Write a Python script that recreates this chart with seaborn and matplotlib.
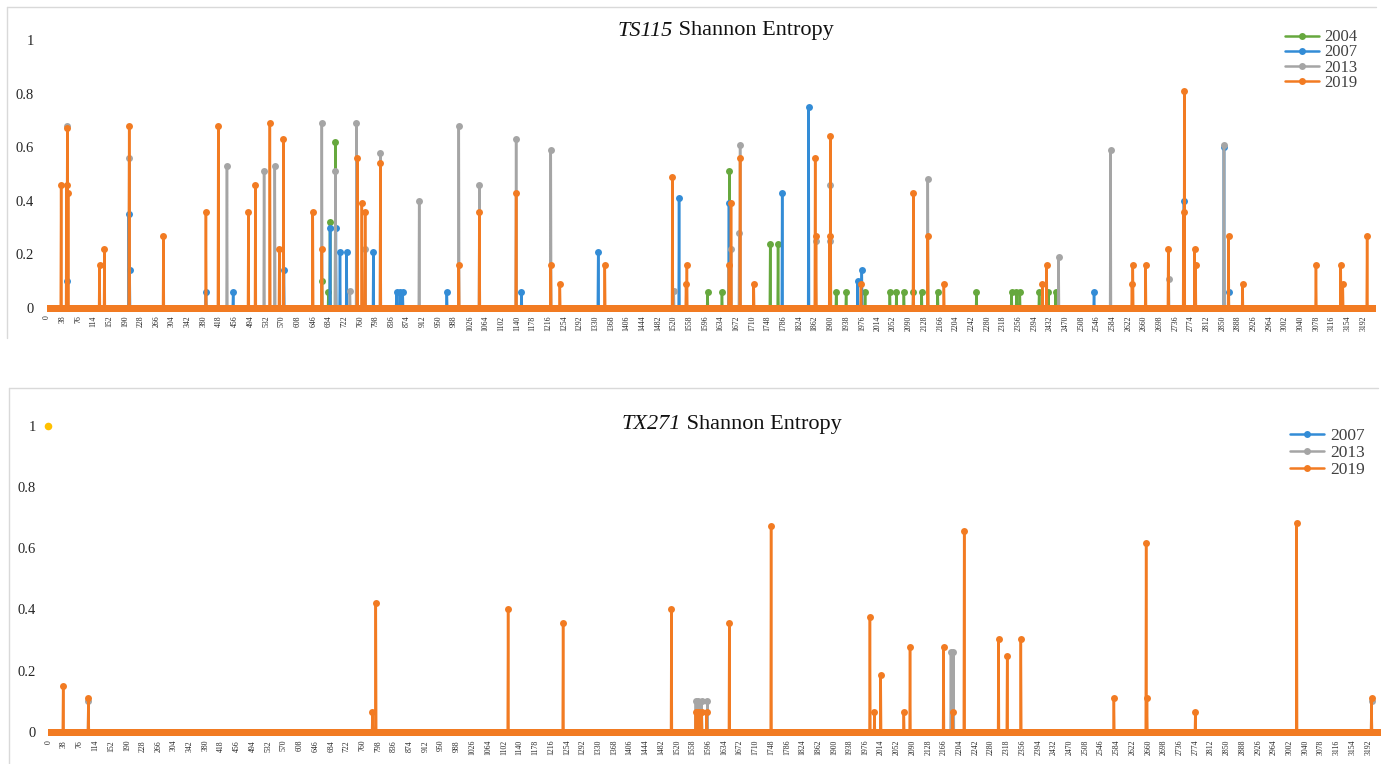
"""
Shannon entropy per position — TS115 / TX271 (Excel-style line charts)
"""

import numpy as np
import pandas as pd
import matplotlib
matplotlib.use("Agg")
import matplotlib.pyplot as plt
import seaborn as sns
from matplotlib.lines import Line2D
from matplotlib.offsetbox import TextArea, HPacker, AnchoredOffsetbox

# ── Data ──────────────────────────────────────────────────────────────────────
N_POS = 3220
TICK_STEP = 38

# TS115 (non-zero positions only, everything else is 0)
ts115_2004_pos = [667, 683, 687, 700, 1602, 1637, 1655, 1754, 1773, 1914, 1938,
                  1984, 2044, 2060, 2078, 2101, 2121, 2160, 2254, 2339, 2351,
                  2359, 2406, 2428, 2446]
ts115_2004_val = [0.10, 0.06, 0.32, 0.62, 0.06, 0.06, 0.51, 0.24, 0.24, 0.06, 0.06,
                  0.06, 0.06, 0.06, 0.06, 0.06, 0.06, 0.06, 0.06, 0.06, 0.06,
                  0.06, 0.06, 0.06, 0.06]

ts115_2007_pos = [50, 199, 201, 386, 452, 575, 687, 701, 711, 727, 792, 848, 856,
                  863, 970, 1151, 1337, 1533, 1654, 1783, 1847, 1966, 1976, 2539,
                  2757, 2854, 2865]
ts115_2007_val = [0.10, 0.35, 0.14, 0.06, 0.06, 0.14, 0.30, 0.30, 0.21, 0.21, 0.21,
                  0.06, 0.06, 0.06, 0.06, 0.06, 0.21, 0.41, 0.39, 0.43, 0.75, 0.10,
                  0.14, 0.06, 0.40, 0.60, 0.06]

ts115_2013_pos = [50, 200, 437, 527, 553, 667, 700, 735, 751, 772, 809, 903, 999,
                  1049, 1138, 1222, 1520, 1659, 1679, 1681, 1864, 1898, 1900, 2136,
                  2453, 2579, 2720, 2854]
ts115_2013_val = [0.68, 0.56, 0.53, 0.51, 0.53, 0.69, 0.51, 0.065, 0.69, 0.22, 0.58,
                  0.40, 0.68, 0.46, 0.63, 0.59, 0.065, 0.22, 0.28, 0.61, 0.25, 0.25,
                  0.46, 0.48, 0.19, 0.59, 0.11, 0.61]

ts115_2019_pos = [35, 48, 50, 52, 128, 140, 200, 283, 386, 416, 489, 506, 541, 564,
                  574, 645, 667, 753, 764, 772, 809, 999, 1049, 1138, 1222, 1244,
                  1353, 1517, 1550, 1552, 1654, 1659, 1681, 1714, 1863, 1865, 1898,
                  1900, 1974, 2101, 2136, 2175, 2414, 2424, 2631, 2633, 2664, 2719,
                  2756, 2758, 2783, 2785, 2865, 2899, 3077, 3137, 3142, 3201]
ts115_2019_val = [0.46, 0.46, 0.67, 0.43, 0.16, 0.22, 0.68, 0.27, 0.36, 0.68, 0.36,
                  0.46, 0.69, 0.22, 0.63, 0.36, 0.22, 0.56, 0.39, 0.36, 0.54, 0.16,
                  0.36, 0.43, 0.16, 0.09, 0.16, 0.49, 0.09, 0.16, 0.16, 0.39, 0.56,
                  0.09, 0.56, 0.27, 0.27, 0.64, 0.09, 0.43, 0.27, 0.09, 0.09, 0.16,
                  0.09, 0.16, 0.16, 0.22, 0.36, 0.81, 0.22, 0.16, 0.27, 0.09, 0.16,
                  0.16, 0.09, 0.27]

# TX271
tx271_2007_pos = []
tx271_2007_val = []

tx271_2013_pos = [97, 1566, 1572, 1580, 1594, 2183, 2189, 3200]
tx271_2013_val = [0.10, 0.10, 0.10, 0.10, 0.10, 0.26, 0.26, 0.10]

tx271_2019_pos = [36, 97, 784, 792, 1112, 1245, 1507, 1566, 1570, 1574, 1580, 1592,
                  1647, 1748, 1987, 1998, 2013, 2069, 2084, 2165, 2187, 2215, 2298,
                  2319, 2352, 2577, 2655, 2657, 2774, 3019, 3200]
tx271_2019_val = [0.15, 0.11, 0.063, 0.42, 0.40, 0.355, 0.40, 0.065, 0.065, 0.065,
                  0.065, 0.065, 0.355, 0.672, 0.376, 0.063, 0.185, 0.063, 0.278,
                  0.278, 0.065, 0.656, 0.304, 0.248, 0.304, 0.109, 0.617, 0.109,
                  0.063, 0.681, 0.109]

# lone marker at the top-left of the TX271 chart
tx271_extra_x = [0]
tx271_extra_y = [1.0]

PALETTE = {"2004": "#66A83E", "2007": "#338CD6", "2013": "#A5A5A5", "2019": "#F27B22"}


def build_frame(series):
    frames = []
    for year, (pos, val) in series.items():
        y = np.zeros(N_POS)
        y[np.asarray(pos, dtype=int)] = val
        frames.append(pd.DataFrame({"pos": np.arange(N_POS), "entropy": y, "year": year}))
    return pd.concat(frames, ignore_index=True)


ts115 = build_frame({"2004": (ts115_2004_pos, ts115_2004_val),
                     "2007": (ts115_2007_pos, ts115_2007_val),
                     "2013": (ts115_2013_pos, ts115_2013_val),
                     "2019": (ts115_2019_pos, ts115_2019_val)})
tx271 = build_frame({"2007": (tx271_2007_pos, tx271_2007_val),
                     "2013": (tx271_2013_pos, tx271_2013_val),
                     "2019": (tx271_2019_pos, tx271_2019_val)})

# ── Style ─────────────────────────────────────────────────────────────────────
sns.set_style("white")
plt.rcParams["font.family"] = ["Liberation Serif", "DejaVu Serif"]

W, H = 1386, 764
fig = plt.figure(figsize=(W / 100, H / 100), dpi=100)


def fx(px):
    return px / W


def fy(py):
    return 1 - py / H


YLIM = (-0.02, 1.08)


def add_axes(x0_px, px_per_unit, y0_px, y1_px):
    # x0_px: pixel of position 0, y0_px / y1_px: pixel of value 0 / 1
    ppu_y = y0_px - y1_px
    bottom_px = y0_px - YLIM[0] * ppu_y
    top_px = y1_px - (YLIM[1] - 1) * ppu_y
    right_px = x0_px + N_POS * px_per_unit
    return fig.add_axes([fx(x0_px), fy(bottom_px),
                         fx(right_px - x0_px), (bottom_px - top_px) / H])


def draw_panel(ax, df, years):
    sns.lineplot(data=df, x="pos", y="entropy", hue="year", hue_order=years,
                 palette=PALETTE, marker="o", markersize=5, markeredgewidth=0,
                 linewidth=1.8, estimator=None, sort=True, ax=ax)
    ax.set_xlim(0, N_POS)
    ax.set_ylim(*YLIM)
    ticks = list(range(0, N_POS - 20, TICK_STEP))
    ax.set_xticks(ticks)
    ax.set_xticklabels([str(t) for t in ticks], rotation=90, fontsize=5.6)
    ax.set_yticks([0, 0.2, 0.4, 0.6, 0.8, 1.0])
    ax.set_yticklabels(["0", "0.2", "0.4", "0.6", "0.8", "1"], fontsize=10.5)
    ax.tick_params(axis="x", length=0, pad=1.5)
    ax.tick_params(axis="y", length=0, pad=9)
    ax.set_xlabel("")
    ax.set_ylabel("")
    sns.despine(ax=ax, left=True, bottom=True)
    ax.patch.set_alpha(0)

    handles, labels = ax.get_legend_handles_labels()
    for h in handles:
        h.set_marker("o")
        h.set_markersize(5)
        h.set_markeredgewidth(0)
    return handles, labels


def add_title(ax, gene, x_px, y_px):
    props = dict(fontsize=16, color="#111111")
    box = HPacker(children=[TextArea(gene, textprops=dict(style="italic", **props)),
                            TextArea(" Shannon Entropy", textprops=props)],
                  sep=0, pad=0, align="baseline")
    anchored = AnchoredOffsetbox(loc="center", child=box, pad=0, borderpad=0,
                                 frameon=False, bbox_to_anchor=(fx(x_px), fy(y_px)),
                                 bbox_transform=fig.transFigure)
    fig.add_artist(anchored)


# ── Top: TS115 ────────────────────────────────────────────────────────────────
ax1 = add_axes(46.7, 0.4125, 308, 40)
h1, l1 = draw_panel(ax1, ts115, ["2004", "2007", "2013", "2019"])
ax1.legend(h1, l1, loc="upper left", bbox_to_anchor=(fx(1277), fy(21)),
           bbox_transform=fig.transFigure, frameon=False, fontsize=12,
           handlelength=2.0, handletextpad=0.35, labelspacing=-0.05, borderpad=0,
           labelcolor="#404040")
add_title(ax1, "TS115", 726, 31)

# ── Bottom: TX271 ─────────────────────────────────────────────────────────────
ax2 = add_axes(48.3, 0.4135, 731.7, 425.7)
h2, l2 = draw_panel(ax2, tx271, ["2007", "2013", "2019"])
sns.scatterplot(x=tx271_extra_x, y=tx271_extra_y, color="#FFC000", s=30,
                linewidth=0, ax=ax2, legend=False, zorder=5, clip_on=False)
ax2.legend(h2, l2, loc="upper left", bbox_to_anchor=(fx(1281), fy(419)),
           bbox_transform=fig.transFigure, frameon=False, fontsize=12.5,
           handlelength=2.0, handletextpad=0.35, labelspacing=0.05, borderpad=0,
           labelcolor="#404040")
add_title(ax2, "TX271", 732, 425)

# chart-area borders (top and left edges only, like the source)
for (x0, x1, y0, y1) in [(7, 1376, 7, 7), (7, 7, 7, 338),
                         (8.5, 1378, 388, 388), (8.5, 8.5, 388, 764)]:
    fig.add_artist(Line2D([fx(x0), fx(x1)], [fy(y0), fy(y1)],
                          transform=fig.transFigure, color="#D9D9D9", lw=1))

fig.savefig("out.png", dpi=100)
plt.close(fig)
